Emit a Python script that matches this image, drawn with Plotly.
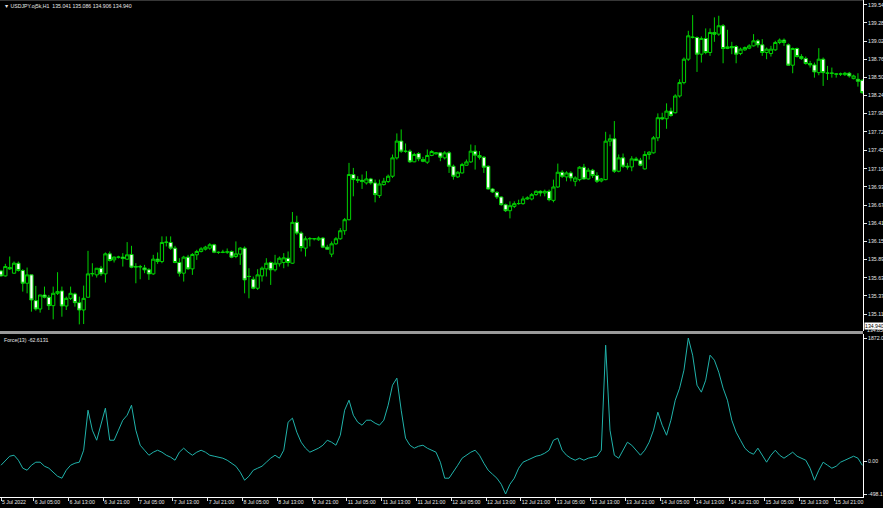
import plotly.graph_objects as go

# ---------------- data ----------------
opens = [
135.728, 135.656, 135.776, 135.695, 135.838, 135.733, 135.551, 135.671, 135.302, 135.182,
135.383, 135.350, 135.230, 135.407, 135.441, 135.225, 135.335, 135.398, 135.273, 135.168,
135.350, 135.685, 135.671, 135.766, 135.685, 135.972, 135.886, 135.925, 135.925, 135.896,
135.963, 135.781, 135.790, 135.771, 135.743, 135.685, 135.896, 135.862, 136.135, 136.135,
136.054, 135.848, 135.695, 135.925, 135.757, 135.958, 136.006, 136.039, 136.054, 136.102,
135.996, 135.992, 135.996, 136.006, 135.934, 135.968, 136.054, 135.650, 135.608, 135.479,
135.656, 135.757, 135.848, 135.743, 135.829, 135.848, 135.910, 135.838, 136.423, 136.269,
136.054, 136.188, 136.190, 136.174, 136.198, 136.068, 135.968, 136.116, 136.188, 136.303,
136.461, 137.108, 137.036, 137.026, 136.988, 137.045, 136.988, 136.806, 136.964, 137.007,
137.084, 137.347, 137.587, 137.443, 137.443, 137.290, 137.409, 137.323, 137.285, 137.381,
137.404, 137.419, 137.347, 137.419, 137.227, 137.074, 137.131, 137.241, 137.289, 137.443,
137.380, 137.356, 137.227, 136.901, 136.853, 136.786, 136.676, 136.590, 136.652, 136.691,
136.691, 136.758, 136.758, 136.820, 136.868, 136.844, 136.868, 136.738, 136.930, 137.141,
137.074, 137.131, 137.011, 137.035, 137.213, 137.045, 137.170, 137.093, 137.016, 137.035,
137.586, 137.620, 137.155, 137.347, 137.227, 137.217, 137.332, 137.313, 137.189, 137.395,
137.419, 137.634, 137.922, 137.907, 138.017, 137.993, 138.233, 138.425, 138.760, 139.071,
139.071, 138.832, 139.057, 138.856, 139.143, 139.119, 139.239, 138.913, 138.942, 138.942,
138.841, 138.894, 138.918, 138.951, 139.023, 138.966, 138.856, 138.841, 138.894, 138.999,
139.033, 138.966, 138.674, 138.913, 138.798, 138.769, 138.698, 138.678, 138.568, 138.760,
138.559, 138.561, 138.549, 138.547, 138.539, 138.559, 138.482, 138.472, 138.458]

highs = [
135.743, 135.829, 135.934, 135.862, 135.862, 135.752, 135.776, 135.671, 135.513, 135.383,
135.503, 135.383, 135.503, 135.709, 135.503, 135.359, 135.503, 135.417, 135.359, 135.517,
136.015, 135.838, 135.766, 135.800, 135.992, 136.006, 135.934, 135.944, 135.982, 136.140,
136.087, 135.838, 135.814, 135.814, 135.766, 135.958, 135.992, 136.222, 136.222, 136.222,
136.087, 135.910, 135.944, 135.958, 135.982, 136.030, 136.068, 136.087, 136.126, 136.116,
136.006, 136.030, 136.049, 136.020, 136.150, 136.068, 136.078, 135.766, 135.647, 135.752,
135.790, 135.910, 135.862, 135.958, 135.934, 135.982, 136.006, 136.571, 136.518, 136.293,
136.222, 136.212, 136.198, 136.222, 136.212, 136.102, 136.150, 136.212, 136.341, 136.485,
137.275, 137.203, 137.084, 137.108, 137.156, 137.060, 137.036, 137.036, 137.060, 137.108,
137.395, 137.697, 137.754, 137.553, 137.467, 137.419, 137.429, 137.361, 137.467, 137.457,
137.428, 137.428, 137.443, 137.443, 137.251, 137.155, 137.275, 137.323, 137.538, 137.528,
137.443, 137.371, 137.237, 136.916, 136.868, 136.796, 136.691, 136.724, 136.724, 136.748,
136.796, 136.796, 136.844, 136.882, 136.882, 136.892, 136.892, 137.035, 137.265, 137.170,
137.155, 137.155, 137.083, 137.227, 137.261, 137.203, 137.189, 137.141, 137.059, 137.720,
137.682, 137.874, 137.395, 137.409, 137.275, 137.371, 137.361, 137.347, 137.443, 137.443,
137.658, 137.984, 137.993, 138.128, 138.065, 138.257, 138.472, 138.784, 139.167, 139.392,
139.086, 139.086, 139.201, 139.201, 139.359, 139.382, 139.263, 139.181, 139.009, 138.961,
138.927, 138.942, 138.975, 139.119, 139.047, 139.047, 138.927, 138.951, 139.023, 139.057,
139.057, 138.985, 138.927, 138.927, 138.832, 138.798, 138.736, 138.712, 138.918, 138.784,
138.664, 138.640, 138.559, 138.568, 138.578, 138.578, 138.539, 138.559, 138.472]

lows = [
135.647, 135.647, 135.743, 135.685, 135.719, 135.431, 135.407, 135.144, 135.158, 135.130,
135.335, 135.168, 135.034, 135.383, 135.072, 135.168, 135.311, 135.216, 134.962, 134.967,
135.350, 135.647, 135.632, 135.656, 135.561, 135.862, 135.848, 135.905, 135.790, 135.886,
135.766, 135.551, 135.608, 135.695, 135.599, 135.671, 135.829, 135.838, 136.078, 136.030,
135.838, 135.647, 135.575, 135.743, 135.671, 135.886, 135.992, 136.020, 136.030, 135.982,
135.972, 135.982, 135.972, 135.910, 135.910, 135.814, 135.407, 135.335, 135.465, 135.455,
135.575, 135.647, 135.527, 135.719, 135.790, 135.766, 135.790, 135.829, 136.245, 136.006,
135.934, 136.078, 136.164, 136.159, 136.054, 136.030, 135.925, 136.102, 136.174, 136.245,
136.451, 136.796, 136.988, 136.902, 136.964, 136.964, 136.710, 136.772, 136.950, 136.988,
137.060, 137.323, 137.419, 137.419, 137.275, 137.285, 137.299, 137.285, 137.261, 137.371,
137.395, 137.299, 137.323, 137.131, 137.035, 137.059, 137.122, 137.237, 137.275, 137.179,
137.323, 137.131, 136.892, 136.844, 136.758, 136.662, 136.571, 136.480, 136.628, 136.676,
136.676, 136.748, 136.738, 136.805, 136.796, 136.796, 136.724, 136.710, 136.916, 137.059,
137.011, 137.011, 136.940, 137.011, 137.035, 137.035, 137.059, 136.987, 136.997, 137.026,
137.514, 137.131, 137.141, 137.203, 137.179, 137.155, 137.299, 137.227, 137.179, 137.323,
137.409, 137.586, 137.888, 137.763, 137.936, 137.984, 138.209, 138.401, 138.736, 139.057,
138.578, 138.712, 138.832, 138.808, 139.009, 139.095, 138.702, 138.904, 138.832, 138.702,
138.817, 138.880, 138.904, 138.942, 138.927, 138.808, 138.760, 138.798, 138.880, 138.975,
138.951, 138.664, 138.559, 138.784, 138.750, 138.683, 138.640, 138.496, 138.530, 138.377,
138.463, 138.496, 138.496, 138.520, 138.520, 138.496, 138.472, 138.367, 138.266]

closes = [
135.656, 135.790, 135.757, 135.838, 135.733, 135.551, 135.671, 135.311, 135.182, 135.383,
135.350, 135.230, 135.407, 135.431, 135.225, 135.335, 135.407, 135.273, 135.168, 135.335,
135.685, 135.690, 135.766, 135.685, 135.972, 135.877, 135.925, 135.925, 135.905, 135.958,
135.781, 135.790, 135.786, 135.743, 135.685, 135.896, 135.862, 136.135, 136.140, 136.054,
135.848, 135.695, 135.925, 135.757, 135.963, 136.006, 136.044, 136.068, 136.102, 135.996,
135.992, 135.996, 136.000, 135.925, 135.972, 136.054, 135.599, 135.647, 135.479, 135.671,
135.766, 135.838, 135.743, 135.838, 135.910, 135.915, 135.848, 136.423, 136.269, 136.063,
136.188, 136.190, 136.188, 136.198, 136.068, 136.039, 136.116, 136.188, 136.303, 136.461,
137.108, 137.036, 137.026, 137.007, 137.045, 136.988, 136.820, 136.973, 137.012, 137.084,
137.347, 137.587, 137.443, 137.440, 137.290, 137.395, 137.333, 137.299, 137.381, 137.438,
137.419, 137.356, 137.419, 137.227, 137.083, 137.141, 137.251, 137.289, 137.443, 137.385,
137.356, 137.213, 136.901, 136.858, 136.786, 136.676, 136.590, 136.662, 136.691, 136.693,
136.758, 136.772, 136.820, 136.868, 136.844, 136.868, 136.748, 136.930, 137.141, 137.083,
137.131, 137.059, 137.059, 137.213, 137.045, 137.170, 137.093, 137.011, 137.045, 137.586,
137.620, 137.155, 137.347, 137.227, 137.217, 137.332, 137.313, 137.241, 137.395, 137.428,
137.634, 137.922, 137.907, 138.017, 137.955, 138.233, 138.425, 138.760, 139.095, 139.076,
138.832, 139.057, 138.856, 139.143, 139.119, 139.239, 138.913, 138.937, 138.923, 138.832,
138.904, 138.927, 138.951, 139.023, 138.966, 138.856, 138.904, 138.904, 138.999, 139.033,
138.999, 138.674, 138.913, 138.798, 138.769, 138.698, 138.678, 138.578, 138.760, 138.568,
138.561, 138.559, 138.547, 138.549, 138.559, 138.520, 138.520, 138.444, 138.281]

force = [
-61, 15, 76, 91, 15, -106, -137, -61, -15, -15,
-76, -106, -167, -228, -258, -137, -61, -30, -15, 167,
775, 471, 319, 547, 806, 319, 319, 471, 623, 699,
851, 471, 243, 167, 91, 137, 167, 137, 91, 61,
15, 137, 198, 137, 91, 137, 167, 137, 91, 76,
61, 46, 15, -30, -76, -167, -289, -228, -137, -106,
-76, -15, 46, 91, 46, 167, 593, 654, 441, 289,
198, 137, 167, 198, 243, 319, 289, 243, 395, 775,
927, 699, 593, 547, 623, 623, 578, 547, 623, 851,
1155, 1262, 775, 350, 243, 198, 228, 243, 198, 167,
137, -15, -258, -258, -167, -61, 46, 91, 137, 167,
91, -30, -137, -198, -258, -350, -498.17, -350, -258, -106,
-15, 15, 46, 76, 91, 122, 167, 319, 350, 167,
91, 46, 15, 46, 15, 46, 61, 76, 167, 1763,
471, 91, 46, 167, 289, 243, 167, 91, 167, 289,
471, 745, 547, 395, 623, 927, 1110, 1383, 1872.02, 1611,
1155, 1049, 1231, 1611, 1535, 1353, 1110, 927, 623, 441,
319, 198, 137, 106, 198, 91, -15, 91, 167, 91,
46, 91, 137, 76, 46, 15, -106, -289, -137, -15,
-61, -106, -76, -15, 15, 46, 76, 46, -62.61]

time_labels = [
    "5 Jul 2022", "6 Jul 05:00", "6 Jul 13:00", "6 Jul 21:00", "7 Jul 05:00",
    "7 Jul 13:00", "7 Jul 21:00", "8 Jul 05:00", "8 Jul 13:00", "8 Jul 21:00",
    "11 Jul 05:00", "11 Jul 13:00", "11 Jul 21:00", "12 Jul 05:00", "12 Jul 13:00",
    "12 Jul 21:00", "13 Jul 05:00", "13 Jul 13:00", "13 Jul 21:00", "14 Jul 05:00",
    "14 Jul 13:00", "14 Jul 21:00", "15 Jul 05:00", "15 Jul 13:00", "15 Jul 21:00"]

price_ticks = [139.540, 139.280, 139.020, 138.760, 138.500, 138.240, 137.980,
               137.720, 137.450, 137.190, 136.930, 136.670, 136.410, 136.150,
               135.890, 135.630, 135.370, 135.110]
force_ticks = [1872.02, 0.0, -498.17]

symbol_title = "USDJPY.oj5k,H1"
ohlc_header = [135.041, 135.086, 134.906, 134.940]
last_price = 134.940
window_low = 134.850
force_name = "Force(13)"
force_last = -62.6131

assert len(opens) == len(highs) == len(lows) == len(closes) == len(force), \
    (len(opens), len(highs), len(lows), len(closes), len(force))

# ---------------- figure ----------------
N = len(closes)
idx = list(range(N))
GREEN = "#00D200"
TXT = "#E6E6E6"
FONT = "Liberation Sans"
FS = 5.2

W, H = 883, 508
ML, MR, MT, MB = 0, 20, 0, 11
plot_h = H - MT - MB  # 497
main_bottom_px = 331
sub_top_px = 334

fig = go.Figure()
fig.add_trace(go.Candlestick(
    x=idx, open=opens, high=highs, low=lows, close=closes,
    increasing=dict(line=dict(color=GREEN, width=1), fillcolor="#000000"),
    decreasing=dict(line=dict(color=GREEN, width=1), fillcolor="#FFFFFF"),
    whiskerwidth=0, xaxis="x", yaxis="y", showlegend=False, hoverinfo="skip"))
fig.add_trace(go.Scatter(
    x=idx, y=force, mode="lines", line=dict(color="#20B2AA", width=1),
    xaxis="x2", yaxis="y2", showlegend=False, hoverinfo="skip"))

px_per_bar = 4.35
x_lo = -0.23
x_hi = x_lo + (W - ML - MR) / px_per_bar
tick_pos = [0] + [7.5 + 8 * (k - 1) for k in range(1, len(time_labels))]

axis_common = dict(showgrid=False, zeroline=False, automargin=False)
fig.update_layout(
    width=W, height=H,
    margin=dict(l=ML, r=MR, t=MT, b=MB, pad=0, autoexpand=False),
    paper_bgcolor="#000000", plot_bgcolor="#000000",
    font=dict(family=FONT, size=FS, color=TXT),
    boxgap=0.25, boxgroupgap=0.0,
    xaxis=dict(domain=[0, 1], anchor="y", range=[x_lo, x_hi],
               showticklabels=False, ticks="", rangeslider=dict(visible=False),
               showline=False, **axis_common),
    xaxis2=dict(domain=[0, 1], anchor="y2", matches="x", range=[x_lo, x_hi],
                tickmode="array", tickvals=tick_pos, ticktext=time_labels,
                tickangle=0,
                ticks="outside", ticklen=3, tickcolor=TXT, tickwidth=1,
                ticklabelposition="outside right",
                tickfont=dict(size=FS, color=TXT, family=FONT),
                showline=True, linecolor="#FFFFFF", linewidth=1,
                rangeslider=dict(visible=False), **axis_common),
    yaxis=dict(domain=[(plot_h - main_bottom_px) / plot_h, 1], anchor="x",
               side="right", range=[134.867, 139.608],
               tickmode="array", tickvals=price_ticks,
               ticktext=[f"{v:.3f}" for v in price_ticks],
               ticks="outside", ticklen=3, tickcolor=TXT,
               tickfont=dict(size=FS, color=TXT, family=FONT),
               showline=True, linecolor="#FFFFFF", linewidth=1, **axis_common),
    yaxis2=dict(domain=[0, (plot_h - sub_top_px) / plot_h], anchor="x2",
                side="right", range=[-543.7, 1932.8],
                tickmode="array", tickvals=force_ticks,
                ticktext=[f"{v:.2f}" for v in force_ticks],
                ticks="outside", ticklen=3, tickcolor=TXT,
                tickfont=dict(size=FS, color=TXT, family=FONT),
                showline=True, linecolor="#FFFFFF", linewidth=1, **axis_common),
)

# window splitter between the two panes
fig.add_shape(type="rect", xref="paper", yref="paper",
              x0=0, x1=1, y0=(plot_h - sub_top_px) / plot_h,
              y1=(plot_h - main_bottom_px) / plot_h,
              fillcolor="#9A9A9A", line=dict(width=0), layer="above")
# top border
fig.add_shape(type="line", xref="paper", yref="paper", x0=0, x1=1, y0=1, y1=1,
              line=dict(color="#6E6E6E", width=1))

header = "\u25BC " + symbol_title + "  " + " ".join(f"{v:.3f}" for v in ohlc_header)
fig.add_annotation(text=header, xref="paper", yref="paper", x=0.002, y=0.998,
                   xanchor="left", yanchor="top", showarrow=False,
                   font=dict(size=FS, color=TXT, family=FONT))
fig.add_annotation(text=f"{force_name} {force_last:.4f}", xref="paper", yref="paper",
                   x=0.002, y=(plot_h - sub_top_px - 1) / plot_h,
                   xanchor="left", yanchor="top", showarrow=False,
                   font=dict(size=FS, color=TXT, family=FONT))
# current price label on price scale
fig.add_annotation(text=f"{last_price:.3f}", xref="paper", yref="y", x=1.0, y=last_price,
                   xanchor="left", yanchor="middle", showarrow=False,
                   bgcolor="#FFFFFF", borderpad=0, xshift=1,
                   font=dict(size=FS, color="#000000", family=FONT))
fig.add_annotation(text=f"{window_low:.3f}", xref="paper", yref="paper", x=1.0,
                   y=(plot_h - main_bottom_px + 1) / plot_h,
                   xanchor="left", yanchor="middle", showarrow=False, xshift=2,
                   font=dict(size=FS, color=TXT, family=FONT))

fig.write_html(
    "out.html",
    config={"displayModeBar": False},
    post_script="document.body.style.margin='0';document.body.style.overflow='hidden';",
)
